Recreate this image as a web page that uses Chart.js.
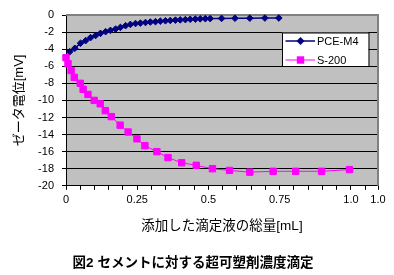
<!DOCTYPE html>
<html>
<head>
<meta charset="utf-8">
<script src="https://cdn.jsdelivr.net/npm/chart.js@4/dist/chart.umd.min.js"></script>
<style>
  html, body { margin: 0; padding: 0; background: #fff; }
</style>
</head>
<body>
<canvas id="chart" width="394" height="275"></canvas>
<script>
// values
const seriesNames = ['PCE-M4', 'S-200'];
const pceX = [0.013, 0.031, 0.051, 0.069, 0.086, 0.104, 0.121, 0.139, 0.156, 0.174, 0.191, 0.209,
              0.226, 0.244, 0.261, 0.279, 0.296, 0.314, 0.331, 0.349, 0.366, 0.384, 0.401, 0.419,
              0.436, 0.454, 0.471, 0.489, 0.506, 0.546, 0.593, 0.645, 0.698, 0.747];
const pceY = [-4.3, -3.9, -3.3, -3.0, -2.65, -2.4, -2.15, -1.95, -1.8, -1.65, -1.45, -1.25,
              -1.1, -1.0, -0.95, -0.88, -0.82, -0.78, -0.72, -0.68, -0.64, -0.6, -0.57, -0.54,
              -0.5, -0.48, -0.45, -0.43, -0.42, -0.4, -0.38, -0.37, -0.36, -0.35];
const s200X = [0, 0.007, 0.018, 0.029, 0.05, 0.06, 0.077, 0.099, 0.12, 0.138, 0.159, 0.19, 0.218,
               0.249, 0.277, 0.319, 0.358, 0.406, 0.457, 0.514, 0.574, 0.645, 0.727, 0.806, 0.897, 0.995];
const s200Y = [-5.0, -5.7, -6.5, -7.3, -8.0, -8.7, -9.3, -10.0, -10.4, -11.2, -11.9, -12.9, -13.7,
               -14.5, -15.3, -16.0, -16.7, -17.3, -17.6, -18.0, -18.2, -18.4, -18.3, -18.3, -18.3, -18.1];
const xTickLabels = ['0', '0.25', '0.5', '0.75', '1.0'];
const xMax = 1.095;
const xStep = 0.05;
const yMin = -20, yMax = 0, yStep = 2;

const colors = ['#000080', '#ff00ff'];
const fontFamily = "'Liberation Sans', Arial, 'Noto Sans CJK JP', sans-serif";

const toPoints = (xs, ys) => xs.map((x, i) => ({ x: x, y: ys[i] }));

// grey plot area like the spreadsheet chart
const plotBack = {
    id: 'plotBack',
    beforeDraw(chart) {
        const { ctx, chartArea: a } = chart;
        ctx.save();
        ctx.fillStyle = '#c0c0c0';
        ctx.fillRect(a.left, a.top, a.right - a.left, a.bottom - a.top);
        ctx.restore();
    },
    beforeDatasetsDraw(chart) {
        const { ctx, chartArea: a } = chart;
        ctx.save();
        ctx.strokeStyle = '#808080';
        ctx.lineWidth = 2;
        ctx.beginPath();
        ctx.moveTo(a.left, a.top);
        ctx.lineTo(a.right, a.top);
        ctx.lineTo(a.right, a.bottom);
        ctx.stroke();
        ctx.restore();
    }
};

// legend box sitting inside the plot, top right
const boxLegend = {
    id: 'boxLegend',
    afterDraw(chart) {
        const { ctx, chartArea: a } = chart;
        const left = a.right - 96, top = a.top + 17.5, w = 86.5, h = 33.5;
        ctx.save();
        ctx.fillStyle = '#fff';
        ctx.fillRect(left, top, w, h);
        ctx.strokeStyle = '#000';
        ctx.lineWidth = 1;
        ctx.strokeRect(left + 0.5, top + 0.5, w, h);
        chart.data.datasets.forEach((ds, i) => {
            const y = top + 8.5 + i * 19;
            const x0 = left + 3.5, x1 = left + 33, mx = left + 18.5;
            ctx.strokeStyle = ds.borderColor;
            ctx.lineWidth = ds.borderWidth;
            ctx.beginPath();
            ctx.moveTo(x0, y);
            ctx.lineTo(x1, y);
            ctx.stroke();
            ctx.fillStyle = ds.pointBackgroundColor;
            ctx.beginPath();
            if (ds.pointStyle === 'rectRot') {
                const r = 4;
                ctx.moveTo(mx, y - r); ctx.lineTo(mx + r, y); ctx.lineTo(mx, y + r); ctx.lineTo(mx - r, y);
                ctx.closePath();
            } else {
                ctx.rect(mx - 3.7, y - 3.7, 7.4, 7.4);
            }
            ctx.fill();
            ctx.fillStyle = '#000';
            ctx.font = '11px ' + fontFamily;
            ctx.textBaseline = 'middle';
            ctx.fillText(ds.label, left + 35, y + 1);
        });
        ctx.restore();
    }
};

const context = document.querySelector('#chart');
const chart = new Chart(context, {
    type: 'scatter',
    data: {
        datasets: [
            {
                label: seriesNames[0],
                data: toPoints(pceX, pceY),
                showLine: true,
                borderColor: colors[0],
                borderWidth: 1.5,
                pointStyle: 'rectRot',
                pointRadius: 3.3,
                pointBorderWidth: 1,
                pointBackgroundColor: colors[0],
                pointBorderColor: colors[0],
                order: 2
            },
            {
                label: seriesNames[1],
                data: toPoints(s200X, s200Y),
                showLine: true,
                borderColor: colors[1],
                borderWidth: 1,
                pointStyle: 'rect',
                pointRadius: 4.5,
                pointBorderWidth: 1,
                pointBackgroundColor: colors[1],
                pointBorderColor: colors[1],
                order: 1
            }
        ]
    },
    options: {
        responsive: false,
        animation: false,
        clip: false,
        layout: { padding: { left: 8, right: 16, top: 15, bottom: 0 } },
        plugins: {
            legend: { display: false },
            tooltip: { enabled: false },
            title: {
                display: true,
                position: 'bottom',
                text: '図2 セメントに対する超可塑剤濃度滴定',
                color: '#000',
                font: { family: fontFamily, size: 13.5, weight: 'bold' },
                padding: { top: 18, bottom: 4 }
            }
        },
        scales: {
            x: {
                type: 'linear',
                min: 0,
                max: xMax,
                afterBuildTicks: scale => {
                    const t = [];
                    for (let i = 0; i * xStep < xMax - 0.01; i++) t.push({ value: i * xStep });
                    t.push({ value: xMax });
                    scale.ticks = t;
                },
                afterFit: scale => { scale.height = 51; },
                ticks: {
                    autoSkip: false,
                    maxRotation: 0,
                    padding: 4,
                    color: '#000',
                    font: { family: fontFamily, size: 11 },
                    callback: (value, index, ticks) => {
                        if (index === ticks.length - 1) return xTickLabels[xTickLabels.length - 1];
                        return index % 5 === 0 ? xTickLabels[index / 5] : '';
                    }
                },
                grid: { drawOnChartArea: false, color: '#000', tickLength: 4 },
                border: { color: '#000', width: 1 },
                title: {
                    display: true,
                    text: '添加した滴定液の総量[mL]',
                    color: '#000',
                    font: { family: fontFamily, size: 13.5 },
                    padding: { top: 0, bottom: 2 }
                }
            },
            y: {
                min: yMin,
                max: yMax,
                afterFit: scale => { scale.width = 58; },
                ticks: {
                    stepSize: yStep,
                    padding: 8,
                    color: '#000',
                    font: { family: fontFamily, size: 11 }
                },
                grid: {
                    color: c => (c.tick && c.tick.value === yMax ? 'rgba(0,0,0,0)' : '#000'),
                    tickColor: '#000',
                    tickLength: 4
                },
                border: { color: '#000', width: 1 },
                title: {
                    display: true,
                    text: 'ゼータ電位[mV]',
                    color: '#000',
                    font: { family: fontFamily, size: 13 },
                    padding: { top: 4, bottom: 0 }
                }
            }
        }
    },
    plugins: [plotBack, boxLegend]
});
</script>
</body>
</html>
